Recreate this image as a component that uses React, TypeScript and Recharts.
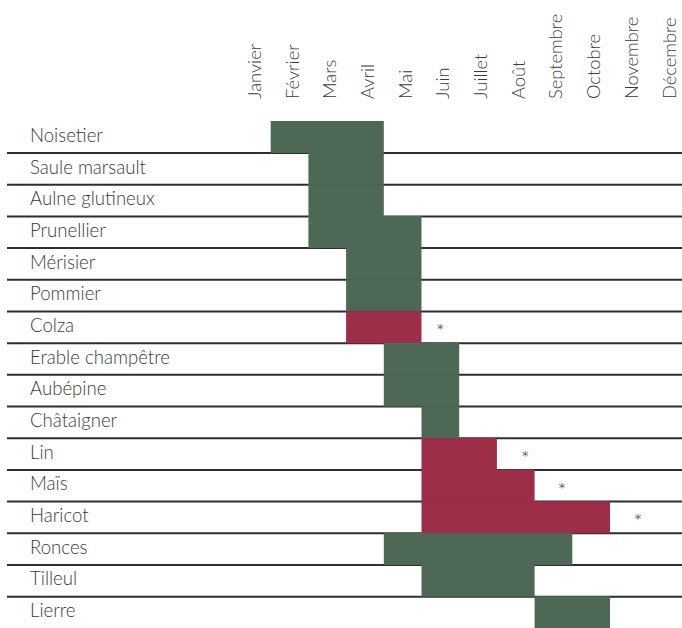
import React from 'react';
import { BarChart, Bar, XAxis, YAxis, Cell, LabelList } from 'recharts';

const months = ['Janvier', 'Février', 'Mars', 'Avril', 'Mai', 'Juin', 'Juillet', 'Août', 'Septembre', 'Octobre', 'Novembre', 'Décembre'];
const plants = ['Noisetier', 'Saule marsault', 'Aulne glutineux', 'Prunellier', 'Mérisier', 'Pommier', 'Colza', 'Erable champêtre', 'Aubépine', 'Châtaigner', 'Lin', 'Maïs', 'Haricot', 'Ronces', 'Tilleul', 'Lierre'];
// first and last flowering month (1 = Janvier)
const startMonth = [2, 3, 3, 3, 4, 4, 4, 5, 5, 6, 6, 6, 6, 5, 6, 9];
const endMonth = [4, 4, 4, 5, 5, 5, 5, 6, 6, 6, 7, 8, 10, 9, 8, 10];
const isCrop = [false, false, false, false, false, false, true, false, false, false, true, true, true, false, false, false];
// position (in months) of the asterisk note, if any
const noteAt: (number | null)[] = [null, null, null, null, null, null, 5.5, null, null, null, 7.75, 8.73, 10.74, null, null, null];

const monthTicks = months.map((_, i) => i + 0.5);

const data = plants.map((name, i) => ({
  name,
  offset: startMonth[i] - 1,
  span: endMonth[i] - startMonth[i] + 1,
  end: endMonth[i],
  crop: isCrop[i],
  note: noteAt[i],
}));

const GREEN = '#4e6856';
const RED = '#9e2d47';
const TEXT = '#3a3a3a';
const FONT = 'Lato, "Open Sans", sans-serif';

const MonthTick = (props: any) => {
  const { x, payload } = props;
  const name = months[Math.floor(payload.value)];
  return (
    <text
      x={0}
      y={0}
      transform={`translate(${x + 9},99) rotate(-90)`}
      textAnchor="start"
      fontSize={18.3}
      fontWeight={300}
      fontFamily={FONT}
      fill={TEXT}
    >
      {name}
    </text>
  );
};

const PlantTick = (props: any) => {
  const { y, payload } = props;
  return (
    <text x={30} y={y + 5} textAnchor="start" fontSize={18.6} fontWeight={300} fontFamily={FONT} fill={TEXT}>
      {payload.value}
    </text>
  );
};

const RowLine = (props: any) => {
  const { x, y, width, height, index } = props;
  if (index === plants.length - 1) return <g />;
  return <line x1={7} x2={x + width} y1={y + height} y2={y + height} stroke="#2e2e2e" strokeWidth={2} />;
};

const NoteLabel = (props: any) => {
  const { x, y, width, height, index } = props;
  const d = data[index];
  if (!d || d.note == null) return null;
  const perMonth = width / d.span;
  const nx = x + width + (d.note - d.end) * perMonth;
  return (
    <text x={nx} y={y + height / 2 + 6} textAnchor="middle" fontSize={13} fill="#666" fontFamily='"DejaVu Sans", sans-serif'>
      *
    </text>
  );
};

export default function App() {
  return (
    <div style={{ width: 682, height: 628, background: '#fff' }}>
      <style>{'body{margin:0;}'}</style>
      <BarChart
        width={682}
        height={628}
        data={data}
        layout="vertical"
        margin={{ top: 0, right: 0, bottom: 0, left: 0 }}
        barCategoryGap={0}
        barGap={0}
      >
        <XAxis
          type="number"
          orientation="top"
          domain={[0, 11.91]}
          allowDataOverflow
          ticks={monthTicks}
          tick={<MonthTick />}
          axisLine={false}
          tickLine={false}
          height={121}
          interval={0}
        />
        <YAxis
          type="category"
          dataKey="name"
          width={233}
          tick={<PlantTick />}
          axisLine={false}
          tickLine={false}
          interval={0}
        />
        <Bar dataKey="offset" stackId="a" fill="transparent" isAnimationActive={false} background={(p: any) => <RowLine key={`bg-${p.index}`} {...p} />} />
        <Bar dataKey="span" stackId="a" isAnimationActive={false}>
          {data.map((d, i) => (
            <Cell key={i} fill={d.crop ? RED : GREEN} />
          ))}
          <LabelList dataKey="span" content={<NoteLabel />} />
        </Bar>
      </BarChart>
    </div>
  );
}
